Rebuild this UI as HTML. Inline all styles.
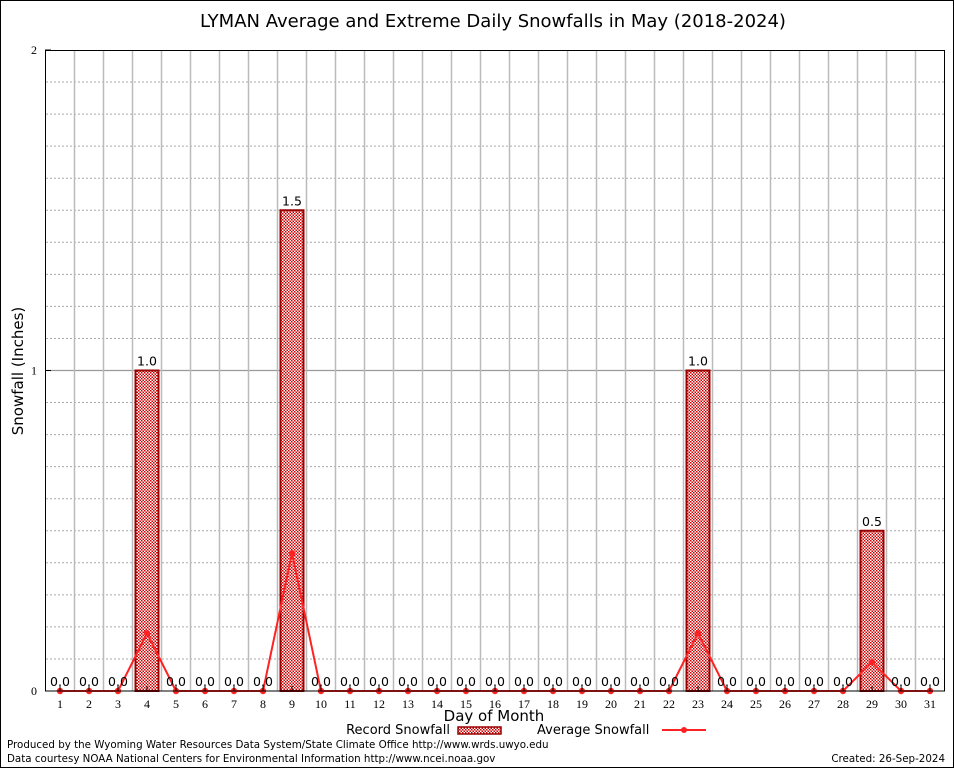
<!DOCTYPE html>
<html><head><meta charset="utf-8"><style>
body{margin:0;background:#fff}
svg{display:block}
text{font-family:"DejaVu Sans",sans-serif}
text.serif{font-family:"Liberation Serif",serif}
</style></head><body>
<svg id="chart" width="954" height="768" xmlns="http://www.w3.org/2000/svg">
<defs>
<pattern id="hatch" width="3" height="3" patternUnits="userSpaceOnUse">
<rect width="3" height="3" fill="#fff"/>
<rect width="1.5" height="1.5" fill="#c00"/>
<rect x="1.5" y="1.5" width="1.5" height="1.5" fill="#c00"/>
</pattern>
</defs>
<rect x="0.5" y="0.5" width="953" height="767" fill="#fff" stroke="#000"/>
<text x="493" y="27" font-size="18" text-anchor="middle">LYMAN Average and Extreme Daily Snowfalls in May (2018-2024)</text>
<g id="grid"></g>
<g id="bars"></g>
<g id="avg"></g>
<g id="labels"></g>
<rect x="45.5" y="50.5" width="899" height="640.5" fill="none" stroke="#000"/>
<text transform="translate(23,371) rotate(-90)" font-size="15" text-anchor="middle">Snowfall (Inches)</text>
<text x="494" y="721" font-size="15" text-anchor="middle">Day of Month</text>
<text x="450" y="734" font-size="13" text-anchor="end">Record Snowfall</text>
<rect x="458" y="727" width="43" height="7" fill="url(#hatch)" stroke="#900" stroke-width="1.5"/>
<text x="537" y="734" font-size="13">Average Snowfall</text>
<line x1="662" y1="730" x2="706" y2="730" stroke="#f22" stroke-width="2"/>
<circle cx="684" cy="730" r="3" fill="#f22"/>
<text x="7" y="748" font-size="10.3">Produced by the Wyoming Water Resources Data System/State Climate Office http://www.wrds.uwyo.edu</text>
<text x="7" y="762" font-size="10.3">Data courtesy NOAA National Centers for Environmental Information http://www.ncei.noaa.gov</text>
<text x="945" y="762" font-size="10.3" text-anchor="end">Created:  26-Sep-2024</text>
</svg>
<script>
const days=[1,2,3,4,5,6,7,8,9,10,11,12,13,14,15,16,17,18,19,20,21,22,23,24,25,26,27,28,29,30,31];
const recordSnow=[0,0,0,1.0,0,0,0,0,1.5,0,0,0,0,0,0,0,0,0,0,0,0,0,1.0,0,0,0,0,0,0.5,0,0];
const avgSnow=[0,0,0,0.18,0,0,0,0,0.43,0,0,0,0,0,0,0,0,0,0,0,0,0,0.18,0,0,0,0,0,0.09,0,0];
const yTicks=[0,1,2];
const NS="http://www.w3.org/2000/svg";
const x=d=>60+(d-1)*29;
const y=v=>691-v*320.5;
function mk(tag,attrs,parent,txt){const e=document.createElementNS(NS,tag);for(const k in attrs)e.setAttribute(k,attrs[k]);if(txt!==undefined)e.textContent=txt;document.getElementById(parent).appendChild(e);return e;}
for(let i=1;i<20;i++){const v=i/10;
 const l=mk('line',{x1:46,x2:944,y1:y(v),y2:y(v),stroke:i%10==0?'#999':'#aaa','stroke-dasharray':i%10==0?'':'2,2','stroke-width':i%10==0?1.2:1},'grid');
 
 }
for(let i=0;i<days.length-1;i++){const gx=x(days[i])+14.5;
 const l=mk('line',{x1:gx,x2:gx,y1:51,y2:691,stroke:'#bbb','stroke-width':1.5},'grid');
 
 }
yTicks.forEach(t=>{const e=mk('text',{x:37,y:y(t)+4,'font-size':12,'text-anchor':'end',class:'serif'},'labels',String(t));
 
 
 const tk=mk('line',{x1:45,x2:51,y1:y(t),y2:y(t),stroke:'#000'},'labels');
 
 });
days.forEach((d,i)=>{
 const t=mk('text',{x:x(d),y:708,'font-size':12,'text-anchor':'middle',class:'serif'},'labels',String(d));
 
 
 const tk=mk('line',{x1:x(d),x2:x(d),y1:686,y2:691,stroke:'#000'},'labels');
 
 
 const v=recordSnow[i];
 if(v>0){const b=mk('rect',{x:x(d)-11.5,y:y(v),width:23,height:691-y(v),fill:'url(#hatch)',stroke:'#900','stroke-width':2},'bars');
  
  }
 const vl=mk('text',{x:x(d),y:y(v)-5,'font-size':12.5,'text-anchor':'middle'},'labels',v.toFixed(1));
 
 
});
const pts=days.map((d,i)=>x(d)+','+y(avgSnow[i])).join(' ');
const pl=mk('polyline',{points:pts,fill:'none',stroke:'#f22','stroke-width':2},'avg');


days.forEach((d,i)=>{const c=mk('circle',{cx:x(d),cy:y(avgSnow[i]),r:3.2,fill:'#f22'},'avg');
 
 });
</script>
</body></html>
